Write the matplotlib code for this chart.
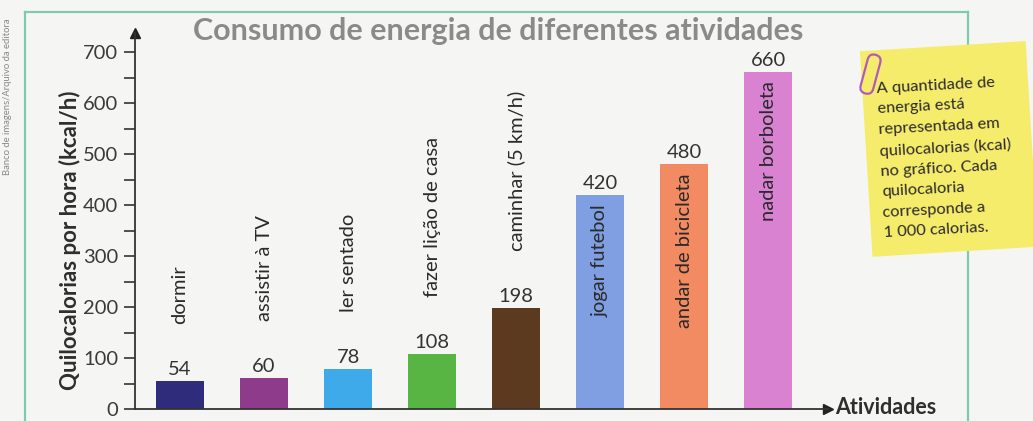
import numpy as np
import matplotlib.pyplot as plt
from matplotlib.patches import Rectangle, FancyBboxPatch
import matplotlib.transforms as mtransforms

atividades = ["dormir", "assistir à TV", "ler sentado", "fazer lição de casa",
              "caminhar (5 km/h)", "jogar futebol", "andar de bicicleta",
              "nadar borboleta"]
kcal = [54, 60, 78, 108, 198, 420, 480, 660]
cores = ["#2f2c7c", "#8f3b8c", "#3eaaea", "#58b443", "#5b3a20",
         "#7f9fe2", "#f28a62", "#d982d2"]
dentro = [False, False, False, False, False, True, True, True]
yticks = [0, 100, 200, 300, 400, 500, 600, 700]

nota = ("A quantidade de\nenergia está\nrepresentada em\nquilocalorias (kcal)\n"
        "no gráfico. Cada\nquilocaloria\ncorresponde a\n1 000 calorias.")

plt.rcParams['font.family'] = ['Lato', 'DejaVu Sans']
W, H = 1033, 421
fig = plt.figure(figsize=(W / 100, H / 100), dpi=100)
fig.patch.set_facecolor("#f5f6f4")

# moldura verde
verde = "#7fc9ad"
fig.add_artist(plt.Line2D([25 / W, 968 / W], [1 - 12 / H, 1 - 12 / H], color=verde, lw=1.6))
fig.add_artist(plt.Line2D([25 / W, 25 / W], [0, 1 - 12 / H], color=verde, lw=1.6))
fig.add_artist(plt.Line2D([968 / W, 968 / W], [0, 1 - 12 / H], color=verde, lw=1.6))

x0, x1 = 135, 828
y0, y1 = 409, 33
ax = fig.add_axes([x0 / W, 1 - y0 / H, (x1 - x0) / W, (y0 - y1) / H])
ax.set_facecolor("none")
ax.set_xlim(-0.536, 7.71)
ax.set_ylim(0, (y0 - y1) / 0.51)

pos = np.arange(len(kcal))
ax.bar(pos, kcal, width=0.57, color=cores, zorder=2)

for i, (v, nome) in enumerate(zip(kcal, atividades)):
    ax.text(i, v + 6, str(v), ha="center", va="bottom", fontsize=14.5, color="#333333")
    if dentro[i]:
        ax.text(i, v - 18, nome, rotation=90, ha="center", va="top",
                fontsize=14.5, color="#2a2a2a")
    else:
        ax.text(i, max(150, v + 112), nome, rotation=90, ha="center", va="bottom",
                fontsize=14.5, color="#2a2a2a")

for s in ["top", "right"]:
    ax.spines[s].set_visible(False)
for s in ["left", "bottom"]:
    ax.spines[s].set_color("#333333")
    ax.spines[s].set_linewidth(1.3)
ax.plot(1, 0, ">", color="#222222", markersize=7, transform=ax.transAxes, clip_on=False)
ax.plot(0, 1, "^", color="#222222", markersize=7, transform=ax.transAxes, clip_on=False)

ax.set_xticks([])
ax.set_yticks(yticks)
ax.set_yticks(np.arange(50, 700, 100), minor=True)
ax.tick_params(axis="y", which="both", direction="out", length=8, width=1.2,
               color="#333333", labelsize=14.5, labelcolor="#3a3a3a", pad=4)
ax.set_ylabel("Quilocalorias por hora (kcal/h)", fontsize=16, fontweight="bold",
              color="#2e2e2e")
ax.yaxis.set_label_coords(-0.078, 0.45)

fig.text(498 / W, 1 - 31 / H, "Consumo de energia de diferentes atividades",
         ha="center", va="center", fontsize=22, fontweight="bold", color="#8a8a8a")
fig.text(835 / W, 1 - 408 / H, "Atividades", ha="left", va="center",
         fontsize=15.5, fontweight="bold", color="#2e2e2e")
fig.text(8 / W, 1 - 97 / H, "Banco de imagens/Arquivo da editora", rotation=90,
         ha="center", va="center", fontsize=6.8, color="#888888")

# bilhete amarelo
giro = mtransforms.Affine2D().rotate_deg_around(948, H - 148, 3.5) + mtransforms.IdentityTransform()
note = Rectangle((866, H - 252), 166, 206, facecolor="#f6ec6c", edgecolor="none",
                 transform=giro, zorder=5)
fig.add_artist(note)
fig.text(880 / W, 1 - 161 / H, nota, rotation=3, rotation_mode="anchor",
         ha="left", va="center", fontsize=11.8, color="#2a2a2a", linespacing=1.58,
         zorder=6)
clip = FancyBboxPatch((864, H - 94), 13, 40, boxstyle="round,pad=0,rounding_size=6.5",
                      facecolor="none", edgecolor="#b25ab8", lw=1.6,
                      transform=mtransforms.Affine2D().rotate_deg_around(870, H - 74, -15)
                      + mtransforms.IdentityTransform(), zorder=7)
fig.add_artist(clip)

fig.savefig("out.png", dpi=100, facecolor=fig.get_facecolor())
